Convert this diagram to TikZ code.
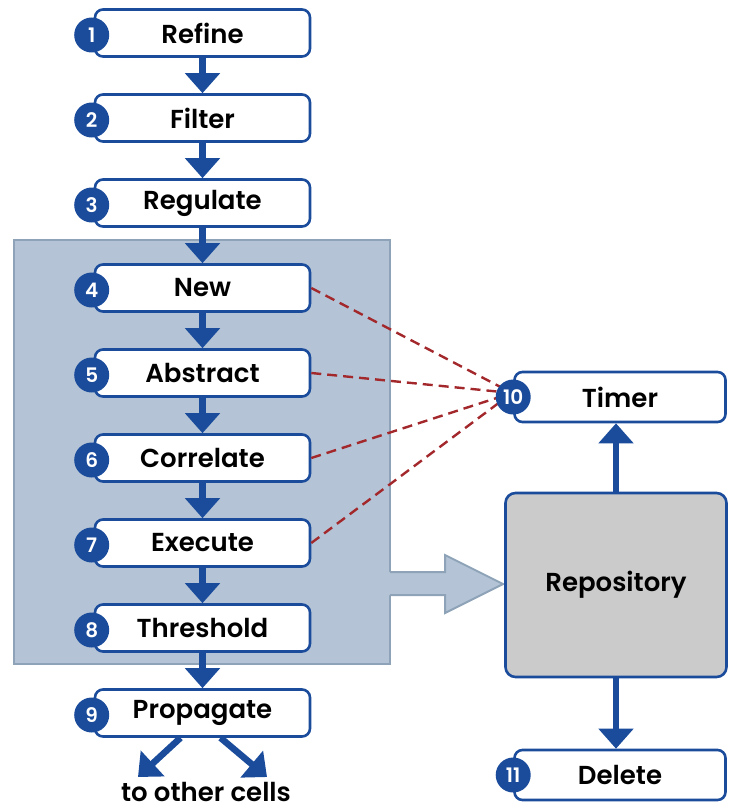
\documentclass[tikz,border=0pt]{standalone}
\usepackage{fontspec}
\setmainfont{Poppins}[BoldFont={* SemiBold}]
\usetikzlibrary{arrows.meta,positioning}

\definecolor{flowblue}{HTML}{1B4C9C}
\definecolor{panelfill}{HTML}{B4C4D6}
\definecolor{paneledge}{HTML}{8FA3B8}
\definecolor{linkred}{HTML}{A3282C}
\definecolor{repogray}{HTML}{CBCBCB}

\begin{document}
\begin{tikzpicture}[x=1pt, y=1pt,
    stepbox/.style={draw=flowblue, line width=2.6pt, rounded corners=8pt, fill=white,
      minimum width=215pt, minimum height=47pt, inner sep=0pt, font=\fontsize{26}{28}\selectfont\bfseries},
    badge/.style={circle, fill=flowblue, minimum size=35pt, inner sep=0pt, text=white,
      font=\fontsize{20}{22}\selectfont\bfseries},
    flow/.style={draw=flowblue, line width=6.5pt, -{Triangle[width=34pt, length=20pt]}},
    link/.style={draw=linkred, line width=2.4pt, dash pattern=on 10pt off 6pt},
    panel/.style={fill=panelfill, draw=paneledge, line width=2pt}]
  \useasboundingbox (0,0) rectangle (728,-808);
  % ---------------- shaded block around steps 4..8, with its outlet ----------------
  \node[panel, minimum width=376pt, minimum height=424pt, inner sep=0pt] (block) at (202,-452) {};
  \fill[panelfill] (388,-572) -- (445,-572) -- (445,-555) -- (503,-584) -- (445,-613) -- (445,-595) -- (388,-595) -- cycle;
  \draw[paneledge, line width=2pt, line join=miter]
    (390,-572) -- (445,-572) -- (445,-555) -- (503,-584) -- (445,-613) -- (445,-595) -- (390,-595);
  % ---------------- the chain of steps ----------------
  \foreach \i/\txt in {1/Refine, 2/Filter, 3/Regulate, 4/New, 5/Abstract, 6/Correlate,
                       7/Execute, 8/Threshold, 9/Propagate} {
    \node[stepbox] (s\i) at (202.5,{-33-85*(\i-1)}) {\txt};
  }
  \foreach \i [evaluate=\i as \j using int(\i+1)] in {1,...,8}
    \draw[flow] (s\i.south) -- (s\j.north);
  % ---------------- timer, repository, delete ----------------
  \node[stepbox, minimum width=211pt, minimum height=50pt] (timer) at (620,-397) {Timer};
  \node[stepbox, fill=repogray, rounded corners=10pt, minimum width=221pt, minimum height=184pt]
    (repo) at (616,-585) {Repository};
  \node[stepbox, minimum width=211pt, minimum height=50pt] (delete) at (620,-775) {Delete};
  \draw[flow] (repo.north) -- (repo.north |- timer.south);
  \draw[flow] (repo.south) -- (repo.south |- delete.north);
  % dashed links into the timer
  \coordinate (tin) at (512,-393);
  \foreach \i in {4,...,7}
    \draw[link] (s\i.east) -- (tin);
  % ---------------- numbered badges ----------------
  \foreach \i in {1,...,9}
    \node[badge, xshift=-2pt, yshift=-2pt] (b\i) at (s\i.west) {\i};
  \node[badge] (b10) at (timer.west) {10};
  \node[badge] (b11) at (delete.west) {11};
  % ---------------- out to other cells ----------------
  \node[font=\fontsize{26}{28}\selectfont\bfseries, anchor=base, inner sep=0pt] (cells) at (206,-801) {to other cells};
  \coordinate (outL) at (138,-777);
  \coordinate (outR) at (267,-777);
  \draw[flow] ([xshift=-22pt]s9.south) -- (outL);
  \draw[flow] ([xshift=18pt]s9.south) -- (outR);
\end{tikzpicture}
\end{document}
